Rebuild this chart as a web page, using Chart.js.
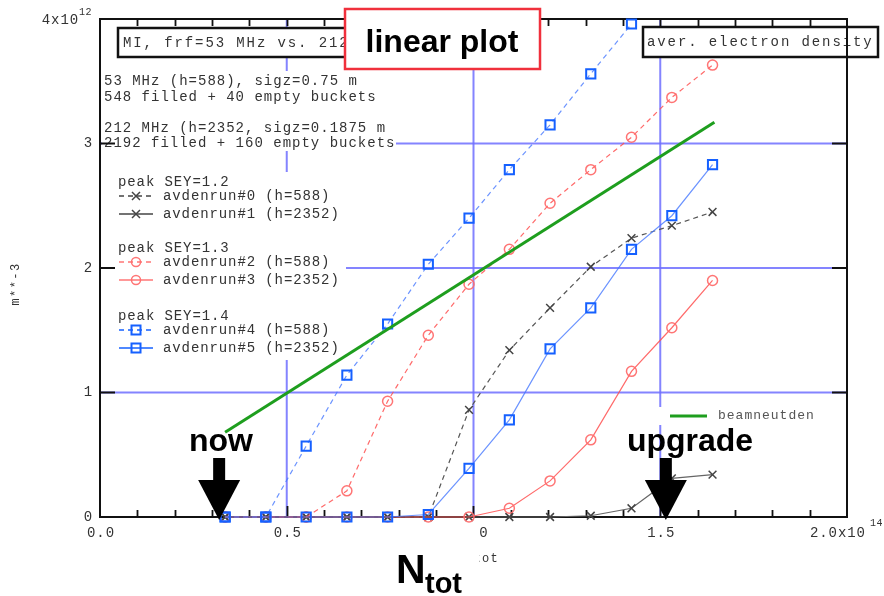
<!DOCTYPE html>
<html>
<head>
<meta charset="utf-8">
<script src="https://cdn.jsdelivr.net/npm/chart.js@4.4.0/dist/chart.umd.min.js"></script>
<style>
    html, body { margin: 0; padding: 0; background: #fff; }
    #grafico { display: block; }
</style>
</head>
<body>
<canvas id="grafico" width="884" height="596"></canvas>
<script>
// N_tot em unidades de 1e14, densidade em unidades de 1e12 m**-3
const nTot = [0.335, 0.444, 0.552, 0.661, 0.770, 0.879, 0.988, 1.096, 1.205, 1.314, 1.423, 1.531, 1.640];

const avdenrun0 = [0, 0, 0, 0, 0, 0, 0.86, 1.34, 1.68, 2.01, 2.24, 2.34, 2.45];
const avdenrun1 = [0, 0, 0, 0, 0, 0, 0, 0, 0, 0.01, 0.07, 0.31, 0.34];
const avdenrun2 = [0, 0, 0, 0.21, 0.93, 1.46, 1.87, 2.15, 2.52, 2.79, 3.05, 3.37, 3.63];
const avdenrun3 = [0, 0, 0, 0, 0, 0, 0, 0.07, 0.29, 0.62, 1.17, 1.52, 1.90];
const avdenrun4 = [0, 0, 0.57, 1.14, 1.55, 2.03, 2.40, 2.79, 3.15, 3.56, 3.96];
const avdenrun5 = [0, 0, 0, 0, 0, 0.02, 0.39, 0.78, 1.35, 1.68, 2.15, 2.42, 2.83];

const beamX = [0.335, 1.645];
const beamY = [0.68, 3.17];

const xTicks = [0.0, 0.5, 1.0, 1.5, 2.0];
const xTickLabels = ['0.0', '0.5', '1.0', '1.5', '2.0x10'];
const yTicks = [0, 1, 2, 3, 4];
const yTickLabels = ['0', '1', '2', '3', '4x10'];
const gradeX = [0.5, 1.0, 1.5];
const gradeY = [1, 2, 3];

const textoInfo = [
    '53 MHz (h=588), sigz=0.75 m',
    '548 filled + 40 empty buckets',
    '',
    '212 MHz (h=2352, sigz=0.1875 m',
    '2192 filled + 160 empty buckets'
];
const gruposSEY = ['peak SEY=1.2', 'peak SEY=1.3', 'peak SEY=1.4'];
const nomesRuns = ['avdenrun#0 (h=588)', 'avdenrun#1 (h=2352)', 'avdenrun#2 (h=588)',
                   'avdenrun#3 (h=2352)', 'avdenrun#4 (h=588)', 'avdenrun#5 (h=2352)'];

const setaNow = 0.319;
const setaUpgrade = 1.515;

function pares(xs, ys) {
    return ys.map((y, i) => ({ x: xs[i], y: y }));
}

const azul = '#1560ff';
const azulLinha = 'rgba(70,120,255,0.8)';
const vermelho = 'rgba(255,110,110,0.95)';
const vermelhoLinha = 'rgba(255,80,80,0.85)';
const preto = '#444';
const corTexto = '#333';

function serie(nome, dados, corLinha, corPonto, estilo, tracejado, raio) {
    return {
        label: nome,
        data: pares(nTot, dados),
        borderColor: corLinha,
        borderWidth: 1.2,
        borderDash: tracejado ? [5, 4] : [],
        pointStyle: estilo,
        pointRadius: raio,
        pointBorderColor: corPonto,
        pointBackgroundColor: 'rgba(0,0,0,0)',
        pointBorderWidth: estilo === 'rect' ? 2 : 1.5,
        tension: 0,
        clip: false
    };
}

const datasets = [
    {
        label: 'beamneutden',
        data: pares(beamX, beamY),
        borderColor: '#1e9e1e',
        borderWidth: 3,
        pointRadius: 0,
        tension: 0,
        clip: false
    },
    serie(nomesRuns[5], avdenrun5, azulLinha, azul, 'rect', false, 6.5),
    serie(nomesRuns[4], avdenrun4, azulLinha, azul, 'rect', true, 6.5),
    serie(nomesRuns[3], avdenrun3, vermelhoLinha, vermelho, 'circle', false, 5),
    serie(nomesRuns[2], avdenrun2, vermelhoLinha, vermelho, 'circle', true, 5),
    serie(nomesRuns[1], avdenrun1, '#666', preto, 'crossRot', false, 5.5),
    serie(nomesRuns[0], avdenrun0, '#555', preto, 'crossRot', true, 5.5)
];

function mono(ctx, tam, esp) {
    ctx.font = tam + 'px "Liberation Mono", "DejaVu Sans Mono", monospace';
    ctx.letterSpacing = esp + 'px';
}

function marcador(ctx, tipo, x, y, cor) {
    ctx.save();
    ctx.strokeStyle = cor;
    ctx.lineWidth = tipo === 'rect' ? 2 : 1.5;
    ctx.setLineDash([]);
    ctx.beginPath();
    if (tipo === 'rect') {
        ctx.rect(x - 4.5, y - 4.5, 9, 9);
    } else if (tipo === 'circle') {
        ctx.arc(x, y, 4.5, 0, 2 * Math.PI);
    } else {
        ctx.moveTo(x - 4, y - 4); ctx.lineTo(x + 4, y + 4);
        ctx.moveTo(x + 4, y - 4); ctx.lineTo(x - 4, y + 4);
    }
    ctx.stroke();
    ctx.restore();
}

const moldura = {
    id: 'moldura',
    beforeDatasetsDraw(chart) {
        const ctx = chart.ctx;
        const a = chart.chartArea;
        const sx = chart.scales.x, sy = chart.scales.y;
        ctx.save();

        // grade azul
        ctx.strokeStyle = 'rgba(110,110,255,0.85)';
        ctx.lineWidth = 2;
        gradeX.forEach(v => {
            const px = sx.getPixelForValue(v);
            ctx.beginPath(); ctx.moveTo(px, a.top); ctx.lineTo(px, a.bottom); ctx.stroke();
        });
        gradeY.forEach(v => {
            const py = sy.getPixelForValue(v);
            ctx.beginPath(); ctx.moveTo(a.left, py); ctx.lineTo(a.right, py); ctx.stroke();
        });

        // blocos de texto com fundo branco
        ctx.fillStyle = '#fff';
        ctx.fillRect(a.left + 2, 71, 294, 80);
        ctx.fillRect(a.left + 2, 172, 244, 188);
        ctx.fillRect(655, 407, 180, 18);

        // caixa do titulo
        mono(ctx, 14, 1.9);
        ctx.textBaseline = 'middle';
        ctx.textAlign = 'left';
        const titulo = 'MI, frf=53 MHz vs. 212 MHz';
        ctx.fillRect(118, 28, 300, 29);
        ctx.strokeStyle = '#111';
        ctx.lineWidth = 2.5;
        ctx.strokeRect(118, 28, 300, 29);
        ctx.fillStyle = corTexto;
        ctx.fillText(titulo, 123, 43);

        const densTxt = 'aver. electron density';
        ctx.fillStyle = '#fff';
        ctx.fillRect(643, 27, 235, 30);
        ctx.strokeRect(643, 27, 235, 30);
        ctx.fillStyle = corTexto;
        ctx.fillText(densTxt, 647, 42);

        // texto informativo
        mono(ctx, 14, 1.0);
        const yInfo = [81, 97, 0, 128, 143];
        textoInfo.forEach((t, i) => { if (t) ctx.fillText(t, 104, yInfo[i]); });

        // legenda
        mono(ctx, 14, 0.9);
        const yGrupo = [182, 248, 316];
        gruposSEY.forEach((t, i) => {
            ctx.fillStyle = corTexto;
            ctx.fillText(t, 118, yGrupo[i]);
            for (let k = 0; k < 2; k++) {
                const ds = chart.data.datasets[6 - (i * 2 + k)];
                const y = yGrupo[i] + 14 + k * 18;
                ctx.save();
                ctx.strokeStyle = ds.pointBorderColor;
                ctx.lineWidth = 1.5;
                ctx.setLineDash(ds.borderDash);
                ctx.beginPath(); ctx.moveTo(119, y); ctx.lineTo(153, y); ctx.stroke();
                ctx.restore();
                marcador(ctx, ds.pointStyle, 136, y, ds.pointBorderColor);
                ctx.fillStyle = corTexto;
                ctx.fillText(nomesRuns[i * 2 + k], 163, y);
            }
        });

        // legenda beamneutden
        ctx.strokeStyle = '#1e9e1e';
        ctx.lineWidth = 3;
        ctx.beginPath(); ctx.moveTo(670, 416); ctx.lineTo(707, 416); ctx.stroke();
        mono(ctx, 13, 1.0);
        ctx.fillStyle = '#555';
        ctx.fillText('beamneutden', 718, 416);

        // moldura preta e marcas
        ctx.strokeStyle = '#111';
        ctx.lineWidth = 2;
        ctx.strokeRect(a.left, a.top, a.right - a.left, a.bottom - a.top);
        ctx.lineWidth = 1.8;
        for (let v = 0.1; v < 2.0; v += 0.1) {
            const px = Math.round(sx.getPixelForValue(v)) + 0.5;
            const maior = Math.abs(v * 2 - Math.round(v * 2)) < 0.01;
            ctx.beginPath();
            ctx.moveTo(px, a.bottom); ctx.lineTo(px, a.bottom - (maior ? 11 : 7));
            ctx.moveTo(px, a.top); ctx.lineTo(px, a.top + 7);
            ctx.stroke();
        }
        gradeY.forEach(v => {
            const py = sy.getPixelForValue(v);
            ctx.beginPath();
            ctx.moveTo(a.left, py); ctx.lineTo(a.left + 15, py);
            ctx.moveTo(a.right, py); ctx.lineTo(a.right - 15, py);
            ctx.stroke();
        });
        ctx.restore();
    },
    afterDraw(chart) {
        const ctx = chart.ctx;
        const a = chart.chartArea;
        const sx = chart.scales.x, sy = chart.scales.y;
        ctx.save();

        // rotulos dos eixos
        mono(ctx, 14, 0.9);
        ctx.fillStyle = corTexto;
        ctx.textBaseline = 'middle';
        xTicks.forEach((v, i) => {
            const px = sx.getPixelForValue(v);
            if (i === xTicks.length - 1) {
                ctx.textAlign = 'left';
                ctx.fillText(xTickLabels[i], px - 37, 533);
                mono(ctx, 10, 0.5);
                ctx.fillText('14', px + 23, 523);
                mono(ctx, 14, 0.9);
            } else {
                ctx.textAlign = 'center';
                ctx.fillText(xTickLabels[i], px + 1, 533);
            }
        });
        yTicks.forEach((v, i) => {
            const py = sy.getPixelForValue(v);
            ctx.textAlign = 'right';
            if (i === yTicks.length - 1) {
                ctx.fillText(yTickLabels[i], 79, 20);
                mono(ctx, 10, 0.5);
                ctx.textAlign = 'left';
                ctx.fillText('12', 79, 12);
                mono(ctx, 14, 0.9);
            } else {
                ctx.fillText(yTickLabels[i], 93, py);
            }
        });
        mono(ctx, 12, 1.4);
        ctx.textAlign = 'center';
        ctx.fillText('Ntot', 482, 559);
        ctx.save();
        ctx.translate(16, 284);
        ctx.rotate(-Math.PI / 2);
        ctx.fillText('m**-3', 0, 0);
        ctx.restore();
        ctx.letterSpacing = '0px';

        // caixa "linear plot"
        ctx.fillStyle = '#fff';
        ctx.fillRect(345, 9, 195, 60);
        ctx.strokeStyle = '#f0303c';
        ctx.lineWidth = 2.5;
        ctx.strokeRect(345, 9, 195, 60);
        ctx.fillStyle = '#000';
        ctx.font = 'bold 32px "Liberation Sans", Arial, sans-serif';
        ctx.textAlign = 'center';
        ctx.textBaseline = 'alphabetic';
        ctx.fillText('linear plot', 442, 52);

        // setas
        function seta(valor, texto, xTexto) {
            const px = sx.getPixelForValue(valor);
            ctx.fillStyle = '#000';
            ctx.font = 'bold 32px "Liberation Sans", Arial, sans-serif';
            ctx.textAlign = 'center';
            ctx.fillText(texto, xTexto, 451);
            ctx.fillRect(px - 6, 458, 12, 23);
            ctx.beginPath();
            ctx.moveTo(px - 21, 480);
            ctx.lineTo(px + 21, 480);
            ctx.lineTo(px, a.bottom + 3);
            ctx.closePath();
            ctx.fill();
        }
        seta(setaNow, 'now', 221);
        seta(setaUpgrade, 'upgrade', 690);

        // N_tot grande
        ctx.fillStyle = '#fff';
        ctx.fillRect(384, 525, 95, 71);
        ctx.fillStyle = '#000';
        ctx.textAlign = 'left';
        ctx.font = 'bold 41px "Liberation Sans", Arial, sans-serif';
        ctx.fillText('N', 396, 583);
        ctx.font = 'bold 29px "Liberation Sans", Arial, sans-serif';
        ctx.fillText('tot', 425, 593);
        ctx.restore();
    }
};

const config = {
    type: 'line',
    data: { datasets: datasets },
    options: {
        responsive: false,
        animation: false,
        layout: { padding: { left: 100, right: 37, top: 19, bottom: 79 } },
        scales: {
            x: { type: 'linear', min: 0, max: 2.0, display: false },
            y: { type: 'linear', min: 0, max: 4, display: false }
        },
        plugins: {
            legend: { display: false },
            tooltip: { enabled: false }
        }
    },
    plugins: [moldura]
};

const grafico = new Chart(document.getElementById('grafico'), config);
</script>
</body>
</html>
